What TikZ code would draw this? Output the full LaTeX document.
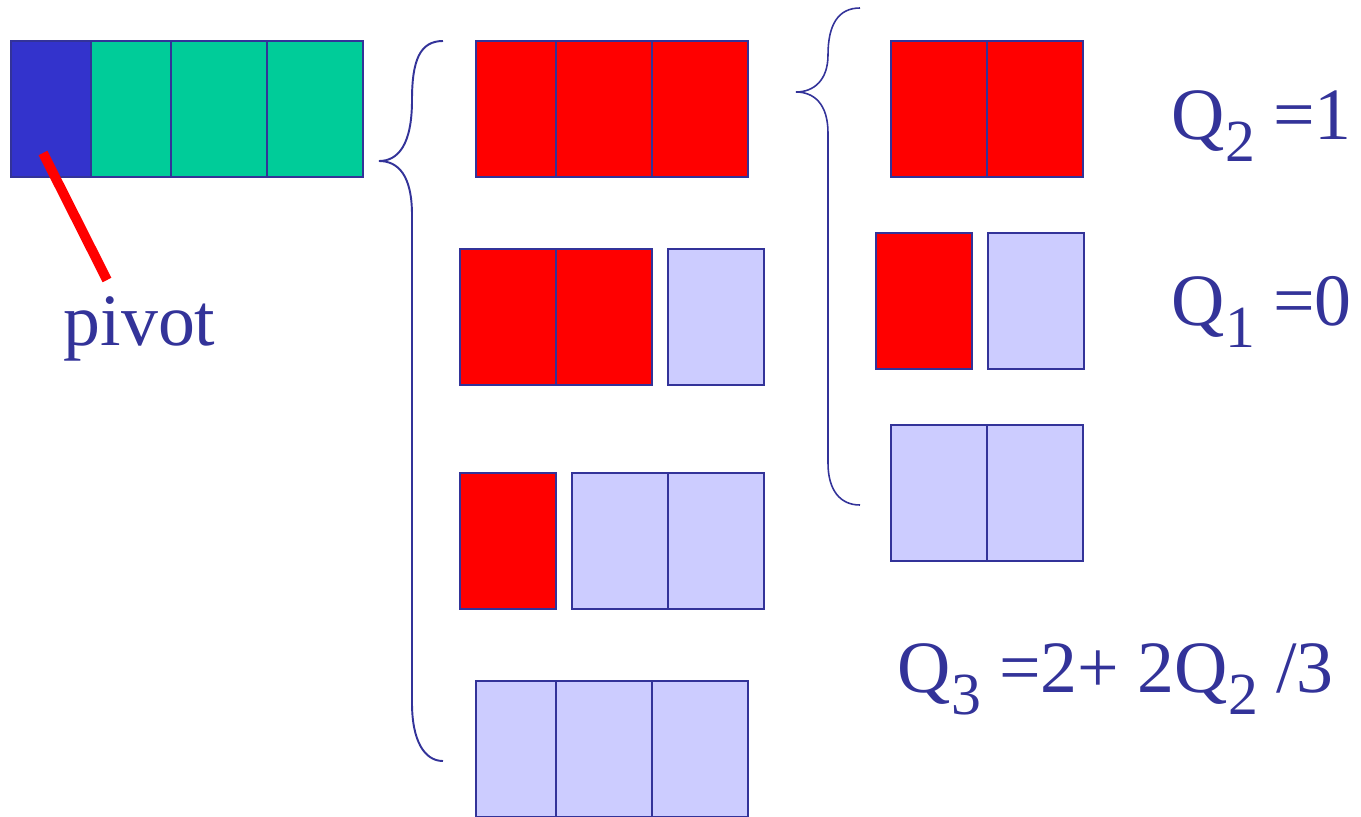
\documentclass[tikz,border=0pt]{standalone}
\usepackage{fontspec}
\setmainfont{Liberation Serif}
\usetikzlibrary{positioning}
\definecolor{edgeblue}{RGB}{51,51,153}
\definecolor{pivblue}{RGB}{51,51,204}
\definecolor{seagrn}{RGB}{0,204,153}
\definecolor{keyred}{RGB}{255,0,0}
\definecolor{lavend}{RGB}{204,204,255}
\newcommand{\lowidx}[1]{\raisebox{-2.2mm}{\fontsize{17}{17}\selectfont #1}}
\tikzset{
  cell/.style   ={draw=edgeblue, line width=0.6pt, minimum width=9.6mm, minimum height=13.6mm,
                  inner sep=0pt, outer sep=0pt, anchor=north west},
  narrow/.style ={minimum width=8mm},
  redc/.style   ={cell, fill=keyred},
  lavc/.style   ={cell, fill=lavend},
  grnc/.style   ={cell, fill=seagrn},
  brc/.style    ={draw=edgeblue, line width=0.55pt},
  pivline/.style={draw=keyred, line width=2.8pt},
  eqtxt/.style  ={text=edgeblue, font=\fontsize{21}{25}\selectfont, anchor=base west, inner sep=0pt},
}

\begin{document}
\begin{tikzpicture}[x=0.1mm,y=-0.1mm,node distance=0pt and 0pt]
\useasboundingbox (0,0) rectangle (1361,816);

% the array and its pivot
\node[cell,narrow,fill=pivblue] (a0) at (11,41) {};
\node[grnc,narrow,right=of a0] (a1) {};
\node[grnc,right=of a1] (a2) {};
\node[grnc,right=of a2] (a3) {};
\node[eqtxt] (pivlbl) at (63,345) {pivot};
\coordinate (pin) at (43,153);
\coordinate (pend) at (107,280);
\draw[pivline] (pin) -- (pend);

% first split: three left
\node[redc,narrow] (m11) at (476,41) {};
\node[redc,right=of m11] (m12) {};
\node[redc,right=of m12] (m13) {};

\node[redc] (m21) at (460,249) {};
\node[redc,right=of m21] (m22) {};
\node[lavc,right=1.6mm of m22] (m23) {};

\node[redc] (m31) at (460,473) {};
\node[lavc,right=1.6mm of m31] (m32) {};
\node[lavc,right=of m32] (m33) {};

\node[lavc,narrow] (m41) at (476,681) {};
\node[lavc,right=of m41] (m42) {};
\node[lavc,right=of m42] (m43) {};

% second split: two left
\node[redc] (r11) at (891,41) {};
\node[redc,right=of r11] (r12) {};

\node[redc] (r21) at (876,233) {};
\node[lavc,right=1.6mm of r21] (r22) {};

\node[lavc] (r31) at (891,425) {};
\node[lavc,right=of r31] (r32) {};

% braces
\draw[brc] (443,41) .. controls (420,41) and (412,60) .. (412,100)
   .. controls (412,145) and (398,161) .. (379,161)
   .. controls (398,161) and (412,175) .. (412,215) -- (412,703)
   .. controls (412,740) and (424,761) .. (443,761);
\draw[brc,line width=0.45pt] (860,8) .. controls (838,8) and (828,25) .. (828,55)
   .. controls (828,80) and (814,92) .. (796,92)
   .. controls (814,92) and (828,104) .. (828,133) -- (828,463)
   .. controls (828,490) and (840,505) .. (860,505);

% expected comparisons
\node[eqtxt] (q2) at (1171,139) {Q\lowidx{2} =1};
\node[eqtxt] (q1) at (1171,325) {Q\lowidx{1} =0};
\node[eqtxt] (q3) at (897,692) {Q\lowidx{3} =2+ 2Q\lowidx{2} /3};
\end{tikzpicture}
\end{document}
